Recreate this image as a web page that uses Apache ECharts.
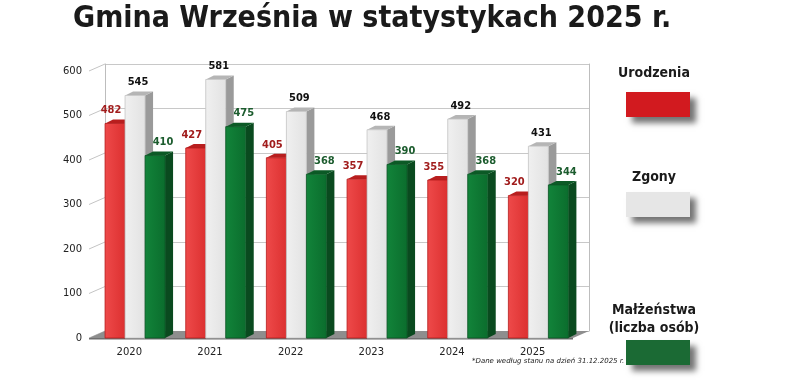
<!DOCTYPE html>
<html><head><meta charset="utf-8">
<script src="https://cdn.jsdelivr.net/npm/echarts@6/dist/echarts.min.js"></script>
<style>html,body{margin:0;padding:0;background:#fff}#c{width:807px;height:387px}</style>
</head><body><div id="c"></div>
<script>
const titleText = 'Gmina Września w statystykach 2025 r.';
const years = ['2020', '2021', '2022', '2023', '2024', '2025'];
const urodzenia = [482, 427, 405, 357, 355, 320];
const zgony = [545, 581, 509, 468, 492, 431];
const malzenstwa = [410, 475, 368, 390, 368, 344];
const seriesNames = ['Urodzenia', 'Zgony', 'Małżeństwa\n(liczba osób)'];
const yTicks = [0, 100, 200, 300, 400, 500, 600];
const footnote = '*Dane według stanu na dzień 31.12.2025 r.';

const FONT = '"DejaVu Sans Condensed", "DejaVu Sans", sans-serif';
const DX = 16, DY = 7;      // wall depth
const BDX = 8, BDY = 4;     // bar depth
const styles = [
  {front: {type:'linear',x:0,y:0,x2:1,y2:0,colorStops:[{offset:0,color:'#ee4a4a'},{offset:1,color:'#dc3030'}]}, stroke:'#b51c1c', side:'#9c1414', top:'#b81e1e', label:'#a11d1d', lx:-4},
  {front: {type:'linear',x:0,y:0,x2:1,y2:0,colorStops:[{offset:0,color:'#f0f0f0'},{offset:1,color:'#e2e2e2'}]}, stroke:'#c4c4c4', side:'#9a9a9a', top:'#b5b5b5', label:'#111', lx:3},
  {front: {type:'linear',x:0,y:0,x2:1,y2:0,colorStops:[{offset:0,color:'#12843a'},{offset:1,color:'#0b6d2d'}]}, stroke:'#0a5524', side:'#0a4a1f', top:'#0c5a26', label:'#1c5c2e', lx:8}
];
const legendColors = ['#d21a1f', '#e6e6e6', '#1b6a34'];

function geom(s, api) {
  const idx = api.value(0), v = api.value(1);
  const c = api.coord([idx, v]);
  const b = api.coord([idx, 0]);
  const bw = api.size([1, 0])[0];
  const w = bw * 0.248;
  const left = c[0] - bw * 0.301 + s * w;
  return {v, c, b, w, left};
}

function barRender(s) {
  return function (params, api) {
    const g = geom(s, api), st = styles[s];
    const {c, b, w, left} = g;
    return {
      type: 'group',
      children: [
        {type:'polygon', shape:{points:[[left+w,c[1]],[left+w+BDX,c[1]-BDY],[left+w+BDX,b[1]-BDY],[left+w,b[1]]]}, style:{fill:st.side}},
        {type:'polygon', shape:{points:[[left,c[1]],[left+BDX,c[1]-BDY],[left+w+BDX,c[1]-BDY],[left+w,c[1]]]}, style:{fill:st.top}},
        {type:'rect', shape:{x:left, y:c[1], width:w, height:b[1]-c[1]}, style:{fill:st.front, stroke:st.stroke, lineWidth:0.8}}
      ]
    };
  };
}
function labelRender(s) {
  return function (params, api) {
    const g = geom(s, api), st = styles[s];
    return {type:'text', style:{text:String(g.v), x:g.left + g.w/2 + st.lx, y:g.c[1] - 13, align:'center', verticalAlign:'middle',
      fill:st.label, font:'bold 11px ' + FONT}};
  };
}

const chart = echarts.init(document.getElementById('c'), null, {renderer:'canvas'});
const graphic = [];
const legendY = [[73, 92], [177, 192], [319, 340]];
seriesNames.forEach((n, i) => {
  graphic.push({type:'text', left: 654 - 60, top: legendY[i][0] - (i === 2 ? 18 : 9), style:{
    text:n, width:120, align:'center', textAlign:'center', x:60, fill:'#1a1a1a',
    font:'bold 14px ' + FONT, lineHeight:18}});
  graphic.push({type:'rect', left: 626, top: legendY[i][1], shape:{width:64, height:25},
    style:{fill:legendColors[i], shadowBlur:6, shadowOffsetX:6, shadowOffsetY:6, shadowColor:'rgba(0,0,0,0.55)'}});
});
graphic.push({type:'text', left: 472, top: 358, style:{text:footnote, fill:'#222', font:'italic 7px "DejaVu Sans", sans-serif'}});

const dataOf = arr => arr.map((v, i) => [i, v]);
const allData = [urodzenia, zgony, malzenstwa];

chart.setOption({
  animation:false,
  title:{text:titleText, left:68, top:-1, textStyle:{fontFamily:FONT, fontWeight:'bold', fontSize:30, color:'#1a1a1a'}},
  grid:[
    {left:89, right:234, top:71, bottom:49},
    {left:89+DX, right:234-DX, top:71-DY, bottom:49+DY}
  ],
  xAxis:[
    {type:'category', data:years, gridIndex:0, axisLine:{show:false}, axisTick:{show:false},
      axisLabel:{margin:9, fontSize:10, color:'#222', fontFamily:'"DejaVu Sans", sans-serif'}},
    {type:'category', data:years, gridIndex:1, show:false}
  ],
  yAxis:[
    {type:'value', gridIndex:0, min:0, max:600, interval:100, axisLine:{show:false}, axisTick:{show:false},
      splitLine:{show:false}, axisLabel:{margin:7, fontSize:10, color:'#222', fontFamily:'"DejaVu Sans", sans-serif'}},
    {type:'value', gridIndex:1, min:0, max:600, interval:100, axisLabel:{show:false}, axisTick:{show:false},
      axisLine:{show:true, lineStyle:{color:'#bdbdbd', width:1}}, splitLine:{show:true, lineStyle:{color:'#c8c8c8', width:1}}},
    {type:'value', gridIndex:1, position:'right', min:0, max:600, interval:100, axisLabel:{show:false}, axisTick:{show:false},
      axisLine:{show:true, lineStyle:{color:'#bdbdbd', width:1}}, splitLine:{show:false}}
  ],
  graphic: graphic,
  series:[
    {type:'custom', xAxisIndex:0, yAxisIndex:0, silent:true, data: yTicks.map(t => [0, t]),
      renderItem: function (params, api) {
        const v = api.value(1);
        const c = api.coord([0, v]);
        const bw = api.size([1, 0])[0];
        const x0 = c[0] - bw / 2;
        return {type:'line', shape:{x1:x0, y1:c[1], x2:x0+DX, y2:c[1]-DY}, style:{stroke:'#c4c4c4', lineWidth:1}};
      }},
    {type:'custom', xAxisIndex:0, yAxisIndex:0, silent:true, data:[[0, 0]],
      renderItem: function (params, api) {
        const a = api.coord([0, 0]);
        const z = api.coord([years.length - 1, 0]);
        const bw = api.size([1, 0])[0];
        const x0 = a[0] - bw / 2, x1 = z[0] + bw / 2, y = a[1];
        return {type:'group', children:[
          {type:'polygon', shape:{points:[[x0, y],[x0+DX, y-DY],[x1+DX, y-DY],[x1, y]]}, style:{fill:'#8e8e8e'}},
          {type:'polygon', shape:{points:[[x0, y],[x1, y],[x1, y+1.5],[x0, y+1.5]]}, style:{fill:'#6e6e6e'}}
        ]};
      }},
    ...allData.map((arr, s) => ({type:'custom', name:seriesNames[s], renderItem:barRender(s), data:dataOf(arr)})),
    ...allData.map((arr, s) => ({type:'custom', z:5, silent:true, renderItem:labelRender(s), data:dataOf(arr)}))
  ]
});
</script></body></html>
